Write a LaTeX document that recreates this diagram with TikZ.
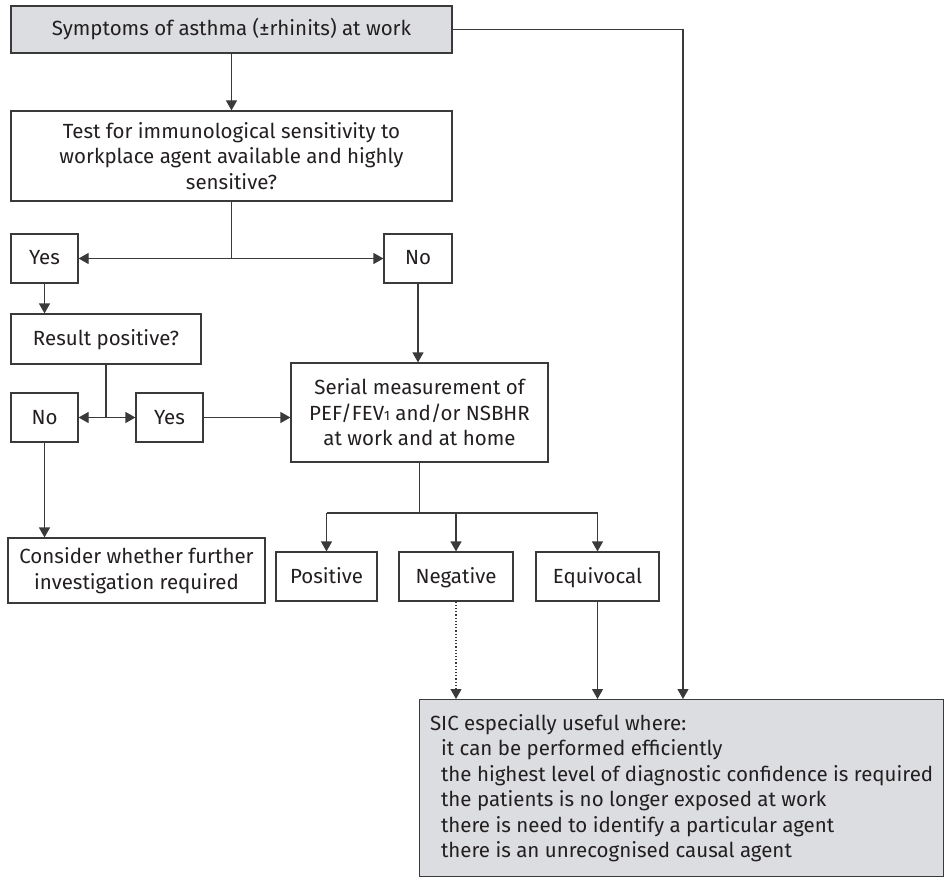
\documentclass[tikz,border=0pt]{standalone}
\usepackage{fontspec}
\setmainfont{Fira Sans}
\usepackage{tikz}
\usetikzlibrary{positioning,arrows.meta,calc}
\definecolor{boxgrey}{HTML}{DCDDE0}
\definecolor{ink}{HTML}{231F20}
\definecolor{rule}{HTML}{3A3A3A}

\begin{document}
\begin{tikzpicture}[x=1pt,y=-1pt,
    every node/.style={font=\fontsize{20.5}{25.5}\selectfont, text=ink},
    box/.style={draw=rule, line width=1.2pt, inner sep=0pt, align=center},
    onebox/.style={box, text height=15.5pt, text depth=2.5pt},
    greybox/.style={box, fill=boxgrey},
    ln/.style={draw=rule, line width=1.2pt},
    arr/.style={ln, -{Triangle[length=10pt,width=11pt]}}]
  \useasboundingbox (0,0) rectangle (944,877);
  \node[greybox, text height=15.5pt, text depth=2.5pt, minimum width=441, minimum height=47] (symp) at (231.5,29.5) {Symptoms of asthma (±rhinits) at work};
  \node[box, minimum width=441, minimum height=90] (test) at (231.5,156) {Test for immunological sensitivity to\\workplace agent available and highly\\sensitive?};
  \node[onebox, minimum width=67, minimum height=49] (yesA) at (44.5,258.5) {Yes};
  \node[onebox, minimum width=68, minimum height=49] (noA) at (418,258.5) {No};
  \node[onebox, minimum width=190, minimum height=50] (res) at (106,339) {Result positive?};
  \node[onebox, minimum width=67, minimum height=49] (noB) at (44.5,417.5) {No};
  \node[onebox, minimum width=67, minimum height=49] (yesB) at (169.5,417.5) {Yes};
  \node[box, minimum width=257, minimum height=99] (serial) at (419.5,412.5) {Serial measurement of\\PEF/FEV{\fontsize{13.5}{13.5}\selectfont 1} and/or NSBHR\\at work and at home};
  \node[box, minimum width=257, minimum height=65] (cons) at (136.5,570.5) {Consider whether further\\investigation required};
  \node[onebox, minimum width=101, minimum height=49] (pos) at (326.5,576.5) {Positive};
  \node[onebox, minimum width=114, minimum height=49] (neg) at (456,576.5) {Negative};
  \node[onebox, minimum width=123, minimum height=49] (equi) at (597.5,576.5) {Equivocal};
  \node[greybox, anchor=north west, minimum width=524, minimum height=177, inner xsep=10pt, align=left] (sic) at (419,699) {SIC especially useful where:\\
    \hspace*{11pt}it can be performed efficiently\\
    \hspace*{11pt}the highest level of diagnostic confidence is required\\
    \hspace*{11pt}the patients is no longer exposed at work\\
    \hspace*{11pt}there is need to identify a particular agent\\
    \hspace*{11pt}there is an unrecognised causal agent};

  \coordinate (s1) at (test.south |- yesA);
  \coordinate (s2) at (res.south |- noB);
  \coordinate (s3) at (serial.south |- 0,513);
  \coordinate (rt) at (sic.north west -| 683,0);

  \draw[arr] (symp) -- (test);
  \draw[ln] (test.south) -- (s1);
  \draw[arr] (s1) -- (yesA);
  \draw[arr] (s1) -- (noA);
  \draw[arr] (yesA) -- (yesA |- res.north);
  \draw[arr] (noA) -- (noA |- serial.north);
  \draw[ln] (res.south) -- (s2);
  \draw[arr] (s2) -- (noB);
  \draw[arr] (s2) -- (yesB);
  \draw[arr] (yesB) -- (yesB -| serial.west);
  \draw[arr] (noB) -- (noB |- cons.north);
  \draw[ln] (serial.south) -- (s3);
  \draw[ln] (s3 -| pos) -- (s3 -| equi);
  \foreach \n in {pos,neg,equi}
    \draw[arr] (s3 -| \n) -- (\n);
  \draw[arr, dotted] (neg) -- (neg |- sic.north);
  \draw[arr] (equi) -- (equi |- sic.north);
  \draw[arr] (symp) -| (rt);
\end{tikzpicture}
\end{document}
